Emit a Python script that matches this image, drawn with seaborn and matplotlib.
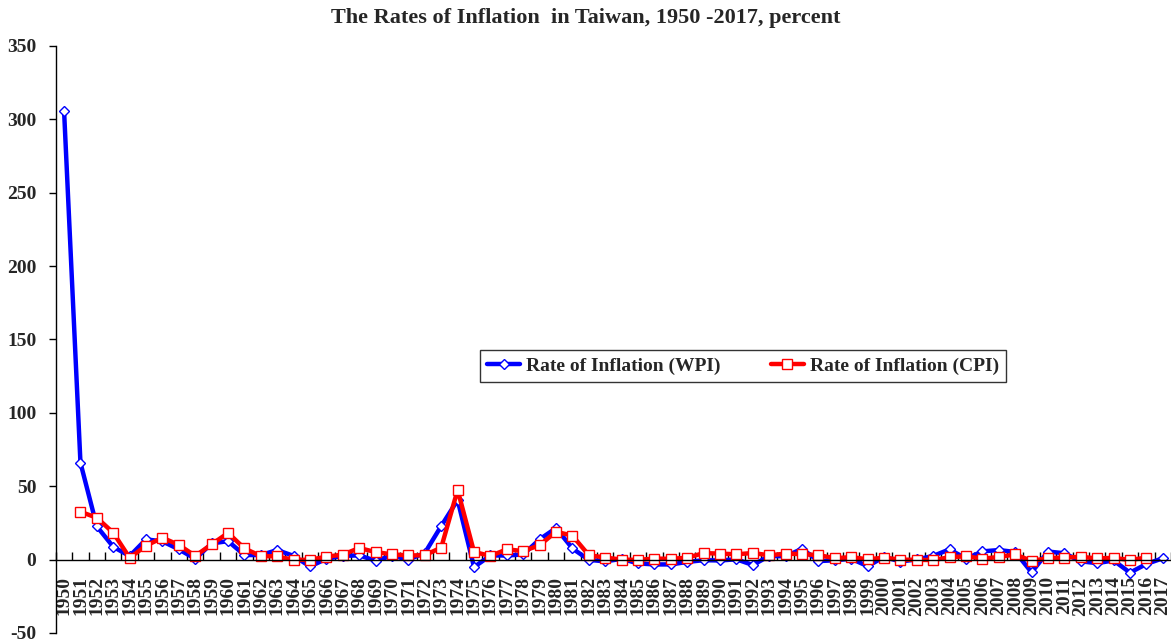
import numpy as np
import pandas as pd
import matplotlib
matplotlib.use("Agg")
import matplotlib.pyplot as plt
import seaborn as sns

# Years on the category axis
years = list(range(1950, 2018))

# Rate of inflation, WPI (1950-2017)
wpi = [306.0, 66.0, 22.6, 8.7, 2.4, 13.8, 12.4, 7.0, 0.5, 11.0,
       12.6, 3.1, 3.1, 6.5, 2.5, -4.7, 0.6, 2.5, 2.9, -0.8,
       2.7, 0.0, 4.5, 22.9, 40.6, -5.1, 2.8, 2.8, 3.5, 13.8,
       21.5, 7.6, -0.2, -1.2, 0.5, -2.6, -3.3, -3.3, -1.6, -0.4,
       -0.6, 0.2, -3.7, 2.5, 2.2, 7.4, -1.0, -0.5, 0.6, -4.5,
       1.8, -1.3, 0.1, 2.5, 7.0, 0.6, 5.6, 6.5, 5.2, -8.7,
       5.5, 4.3, -1.2, -2.4, -0.6, -8.9, -3.0, 0.9]

# Rate of inflation, CPI (no value for 1950 and 2017)
cpi = [None, 32.6, 28.5, 18.3, 1.2, 9.5, 14.9, 10.0, 2.5, 10.4,
       18.2, 7.6, 2.4, 2.2, -0.2, -0.1, 2.0, 3.4, 7.9, 5.1,
       3.6, 2.8, 3.0, 8.2, 47.5, 5.2, 2.5, 7.0, 5.8, 9.8,
       19.0, 16.3, 3.0, 1.4, 0.0, -0.2, 0.7, 0.5, 1.3, 4.4,
       4.1, 3.6, 4.5, 2.9, 4.1, 3.7, 3.1, 0.9, 1.7, 0.2,
       1.3, 0.0, -0.2, -0.3, 1.6, 2.3, 0.6, 1.8, 3.5, -0.9,
       1.0, 1.4, 1.9, 0.8, 1.2, -0.3, 1.4, None]

df = pd.DataFrame({
    "pos": np.arange(len(years)),
    "WPI": pd.to_numeric(pd.Series(wpi), errors="coerce"),
    "CPI": pd.to_numeric(pd.Series(cpi), errors="coerce"),
})

sns.set_style("white")
plt.rcParams["font.family"] = ["Liberation Serif", "DejaVu Serif"]
plt.rcParams["font.weight"] = "bold"

fig = plt.figure(figsize=(11.71, 6.43), dpi=100)
ax = fig.add_axes([0.0477, 0.0156, 0.9523, 0.9129])

sns.lineplot(data=df, x="pos", y="WPI", ax=ax, color="#0000FF", linewidth=3.2,
             marker="D", markersize=5, markerfacecolor="white",
             markeredgecolor="#0000FF", markeredgewidth=1.0,
             label="Rate of Inflation (WPI)")
sns.lineplot(data=df.dropna(subset=["CPI"]), x="pos", y="CPI", ax=ax,
             color="#FF0000", linewidth=3.2, marker="s", markersize=7.5,
             markerfacecolor="white", markeredgecolor="#FF0000",
             markeredgewidth=1.0, label="Rate of Inflation (CPI)")

ax.set_xlim(-0.5, len(years) - 0.5)
ax.set_ylim(-50, 350)
ax.set_yticks(np.arange(-50, 351, 50))
ax.set_yticklabels([str(v) for v in range(-50, 351, 50)], fontsize=14,
                   fontweight="bold")
ax.tick_params(axis="y", left=True, direction="out", length=5, width=1,
               pad=9, color="black")

# category axis crossing at zero, ticks between categories
ax.spines["bottom"].set_position(("data", 0))
ax.spines["top"].set_visible(False)
ax.spines["right"].set_visible(False)
for s in ["left", "bottom"]:
    ax.spines[s].set_color("black")
    ax.spines[s].set_linewidth(1)
ax.set_xticks(df["pos"])
ax.set_xticklabels([str(y) for y in years], rotation=90, fontsize=14,
                   fontweight="bold", va="top")
ax.set_xticks(np.arange(-0.5, len(years), 1), minor=True)
ax.tick_params(axis="x", which="major", bottom=True, length=0, pad=12)
ax.tick_params(axis="x", which="minor", bottom=True, direction="in",
               length=6, width=1, color="black")
ax.set_xlabel("")
ax.set_ylabel("")
ax.grid(False)

fig.text(0.5, 0.972, "The Rates of Inflation  in Taiwan, 1950 -2017, percent",
         ha="center", va="center", fontsize=16, fontweight="bold")

leg = ax.legend(loc="center", bbox_to_anchor=(0.6345, 0.4308),
                bbox_transform=fig.transFigure, ncol=2, frameon=True,
                fancybox=False, prop={"size": 14, "weight": "bold"},
                handlelength=1.7, handletextpad=0.3, columnspacing=2.6,
                borderpad=0.35, borderaxespad=0)
leg.get_frame().set_edgecolor("black")
leg.get_frame().set_linewidth(1)

fig.savefig("out.png", dpi=100)
